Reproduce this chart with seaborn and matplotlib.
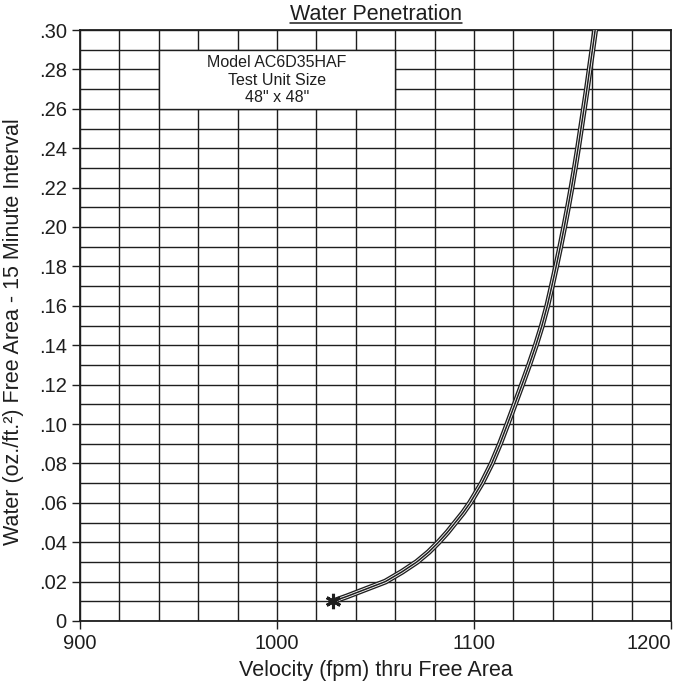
import numpy as np
import matplotlib
matplotlib.use('Agg')
import matplotlib.pyplot as plt
import seaborn as sns
import pandas as pd
from matplotlib.patches import Rectangle
from matplotlib.lines import Line2D

# data
velocity = [1028.5, 1035.5, 1042, 1048.5, 1055, 1063.5, 1071, 1077, 1082,
            1086.5, 1090.5, 1094.5, 1098, 1104, 1109, 1113.2, 1117,
            1120.7, 1124.4, 1128, 1131.4, 1134.5, 1137.2, 1139.5, 1141.7,
            1143.8, 1145.8, 1147.7, 1149.5, 1151.2, 1152.8, 1154.3, 1155.8,
            1157.3, 1158.7, 1160.1, 1161.5]
water = [0.01, 0.0125, 0.015, 0.0175, 0.02, 0.025, 0.03, 0.035, 0.04,
         0.045, 0.05, 0.055, 0.06, 0.07, 0.08, 0.09, 0.10,
         0.11, 0.12, 0.13, 0.14, 0.15, 0.16, 0.17, 0.18,
         0.19, 0.20, 0.21, 0.22, 0.23, 0.24, 0.25, 0.26,
         0.27, 0.28, 0.29, 0.30]
x_ticks = [900, 1000, 1100, 1200]
y_ticks = [0, 0.02, 0.04, 0.06, 0.08, 0.10, 0.12, 0.14, 0.16, 0.18, 0.20,
           0.22, 0.24, 0.26, 0.28, 0.30]
y_labels = ['0', '.02', '.04', '.06', '.08', '.10', '.12', '.14', '.16', '.18',
            '.20', '.22', '.24', '.26', '.28', '.30']
box_text = 'Model AC6D35HAF\nTest Unit Size\n48" x 48"'

df = pd.DataFrame({'velocity': velocity, 'water': water})

sns.set_style('white')
plt.rcParams['font.family'] = ['Liberation Sans', 'DejaVu Sans']
ink = '#1e1e1e'

fig = plt.figure(figsize=(6.9, 6.87), dpi=100)
ax = fig.add_axes([80 / 690, 1 - 621 / 687, 591 / 690, 591 / 687])

# triple line look: black, white gap, black core
for c, w, z in [(ink, 4.2, 3), ('white', 2.3, 4), (ink, 1.1, 5)]:
    sns.lineplot(data=df, x='velocity', y='water', ax=ax, color=c, lw=w,
                 sort=False, estimator=None, zorder=z,
                 solid_joinstyle='round', solid_capstyle='round')
ax.plot(velocity[0], water[0], marker=(6, 2, 0), ms=11, mew=2.2,
        color=ink, zorder=6)

ax.set_xlim(900, 1200)
ax.set_ylim(0, 0.30)
ax.set_xticks(x_ticks)
ax.set_xticks(np.arange(900, 1201, 20), minor=True)
ax.set_yticks(y_ticks)
ax.set_yticklabels(y_labels)
ax.set_yticks(np.arange(0, 0.3001, 0.01), minor=True)

ax.set_axisbelow(True)
ax.grid(True, which='both', color=ink, lw=1.0)
ax.tick_params(which='major', direction='out', length=6, width=1.0,
               color=ink, labelcolor=ink, labelsize=14.5, pad=3.5,
               left=True, bottom=True)
ax.tick_params(which='minor', length=0)
for s in ax.spines.values():
    s.set_color(ink)
    s.set_linewidth(1.3)

# last x label sits inside the figure, like the reference
ax.get_xticklabels()[-1].set_horizontalalignment('right')

# info box
ax.add_patch(Rectangle((940, 0.26), 120, 0.03, facecolor='white',
                       edgecolor=ink, lw=1.0, zorder=1))
ax.text(1000, 0.2745, box_text, ha='center', va='center', fontsize=11.5,
        linespacing=1.2, color=ink, zorder=2)

ax.set_xlabel('Velocity (fpm) thru Free Area', fontsize=15.5, color=ink,
              labelpad=5)
ax.set_ylabel('Water (oz./ft.²) Free Area - 15 Minute Interval', fontsize=15.5,
              color=ink)
ax.yaxis.set_label_coords(-0.095, 0.49)
t = ax.set_title('Water Penetration', fontsize=15.5, color=ink, pad=7.5)

fig.canvas.draw()
bb = t.get_window_extent().transformed(fig.transFigure.inverted())
uy = bb.y0 + 1.5 / 687
fig.add_artist(Line2D([bb.x0, bb.x1], [uy, uy], transform=fig.transFigure,
                      color=ink, lw=1.1))

fig.savefig('out.png', dpi=100)
